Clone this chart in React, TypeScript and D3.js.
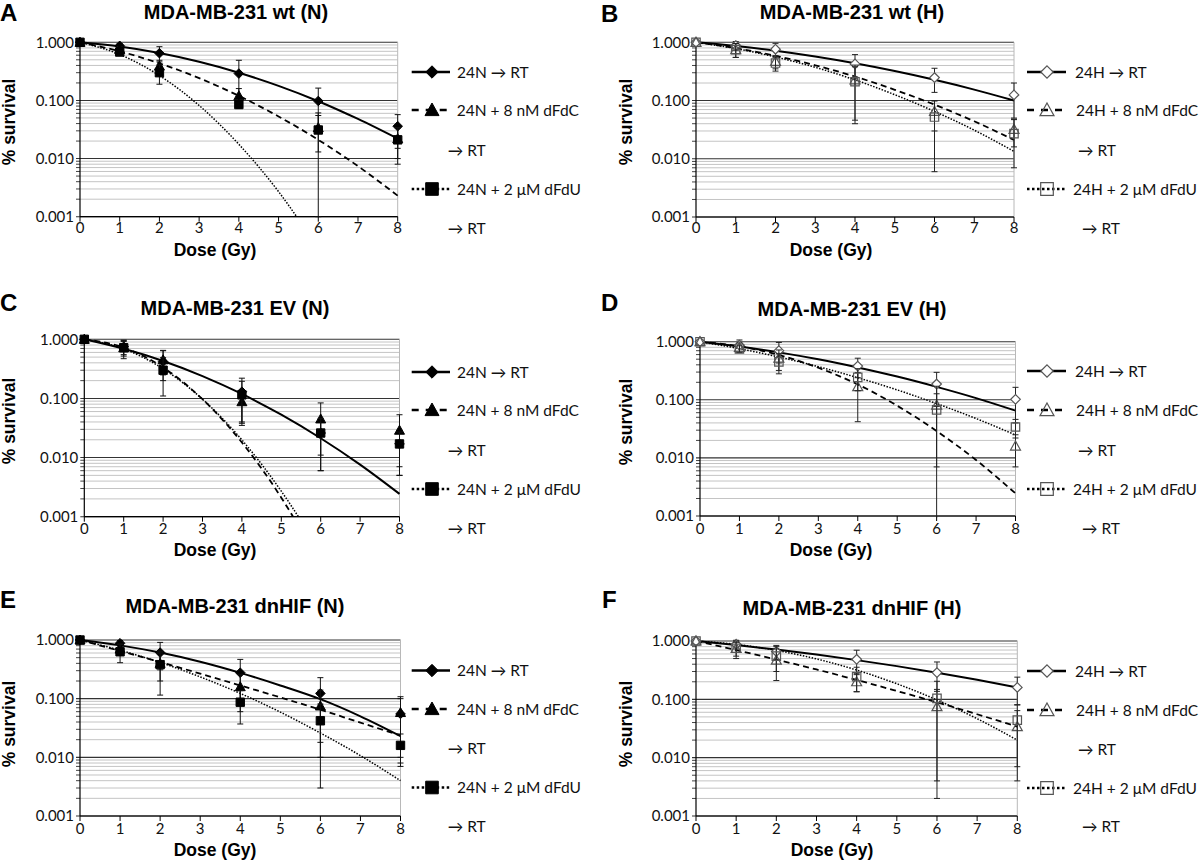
import React from "react";
import * as d3 from "d3";

// ---------- shared axis data ----------
const doses = [0, 1, 2, 4, 6, 8];
const fitDoses = [0, 1, 2, 3, 4, 5, 6, 7, 8];
const xTickValues = [0, 1, 2, 3, 4, 5, 6, 7, 8];
const yMajorTicks = [1, 0.1, 0.01, 0.001];
const yTickLabels = ["1.000", "0.100", "0.010", "0.001"];
const minorDecades = [0.001, 0.01, 0.1];
const minorFactors = [2, 3, 4, 5, 6, 7, 8, 9];
const legendLabelsN = ["24N \u2192 RT", "24N + 8 nM dFdC", "\u2192 RT", "24N + 2 \u03BCM dFdU", "\u2192 RT"];
const legendLabelsH = ["24H \u2192 RT", "24H + 8 nM dFdC", "\u2192 RT", "24H + 2 \u03BCM dFdU", "\u2192 RT"];

// ---------- A: wt (N) ----------
const wtN_RT = [1, 0.87, 0.65, 0.29, 0.098, 0.036];
const wtN_RTErr = [0, 0.08, 0.19, 0.2, 0.065, 0.021];
const wtN_dFdC = [1, 0.75, 0.39, 0.12, 0.034, 0.022];
const wtN_dFdCErr = [0, 0.1, 0.1, 0.04, 0.021, 0.012];
const wtN_dFdU = [1, 0.68, 0.3, 0.085, 0.031, 0.021];
const wtN_dFdUErr = [0, 0.08, 0.11, 0.012, 0.03, 0.013];
const wtN_fitRT = [1, 0.845, 0.653, 0.462, 0.3, 0.178, 0.097, 0.048, 0.022];
const wtN_fitDFdC = [1, 0.7, 0.435, 0.242, 0.12, 0.053, 0.021, 0.0074, 0.0023];
const wtN_fitDFdU = [1, 0.617, 0.268, 0.082, 0.0176, 0.0027, 0.00028];

// ---------- B: wt (H) ----------
const wtH_RT = [1, 0.88, 0.76, 0.425, 0.248, 0.125];
const wtH_RTErr = [0, 0.15, 0.2, 0.19, 0.11, 0.075];
const wtH_dFdC = [1, 0.75, 0.47, 0.226, 0.065, 0.032];
const wtH_dFdCErr = [0, 0.2, 0.12, 0.18, 0.035, 0.016];
const wtH_dFdU = [1, 0.75, 0.44, 0.21, 0.052, 0.027];
const wtH_dFdUErr = [0, 0.2, 0.12, 0.17, 0.046, 0.02];
const wtH_fitRT = [1, 0.864, 0.717, 0.571, 0.437, 0.321, 0.227, 0.154, 0.1];
const wtH_fitDFdC = [1, 0.794, 0.586, 0.403, 0.258, 0.153, 0.085, 0.044, 0.021];
const wtH_fitDFdU = [1, 0.78, 0.56, 0.372, 0.226, 0.126, 0.065, 0.031, 0.0134];

// ---------- C: EV (N) ----------
const evN_RT = [1, 0.75, 0.42, 0.13, 0.026, 0.017];
const evN_RTErr = [0, 0.2, 0.22, 0.09, 0.015, 0.012];
const evN_dFdC = [1, 0.72, 0.45, 0.088, 0.045, 0.029];
const evN_dFdCErr = [0, 0.2, 0.2, 0.05, 0.039, 0.024];
const evN_dFdU = [1, 0.72, 0.3, 0.115, 0.026, 0.017];
const evN_dFdUErr = [0, 0.25, 0.19, 0.08, 0.02, 0.01];
const evN_fitRT = [1, 0.69, 0.43, 0.239, 0.119, 0.053, 0.0212, 0.0076, 0.00243];
const evN_fitDFdC = [1, 0.726, 0.334, 0.097, 0.018, 0.0021, 0.00015];
const evN_fitDFdU = [1, 0.689, 0.317, 0.097, 0.0199, 0.0027, 0.00025];

// ---------- D: EV (H) ----------
const evH_RT = [1, 0.87, 0.7, 0.38, 0.187, 0.102];
const evH_RTErr = [0, 0.2, 0.27, 0.14, 0.11, 0.062];
const evH_dFdC = [1, 0.8, 0.52, 0.168, 0.081, 0.016];
const evH_dFdCErr = [0, 0.15, 0.2, 0.126, 0.09, 0.009];
const evH_dFdU = [1, 0.75, 0.45, 0.243, 0.067, 0.034];
const evH_dFdUErr = [0, 0.1, 0.17, 0.1, 0.06, 0.012];
const evH_fitRT = [1, 0.827, 0.655, 0.497, 0.36, 0.251, 0.167, 0.107, 0.065];
const evH_fitDFdC = [1, 0.834, 0.591, 0.356, 0.184, 0.079, 0.029, 0.0092, 0.00245];
const evH_fitDFdU = [1, 0.758, 0.545, 0.372, 0.24, 0.148, 0.086, 0.0476, 0.0248];

// ---------- E: dnHIF (N) ----------
const dnN_RT = [1, 0.88, 0.61, 0.277, 0.123, 0.055];
const dnN_RTErr = [0, 0.1, 0.3, 0.19, 0.105, 0.045];
const dnN_dFdC = [1, 0.7, 0.4, 0.16, 0.075, 0.058];
const dnN_dFdCErr = [0, 0.15, 0.2, 0.1, 0.065, 0.05];
const dnN_dFdU = [1, 0.63, 0.38, 0.087, 0.042, 0.016];
const dnN_dFdUErr = [0, 0.22, 0.265, 0.05, 0.039, 0.009];
const dnN_fitRT = [1, 0.81, 0.61, 0.425, 0.275, 0.168, 0.098, 0.05, 0.023];
const dnN_fitDFdC = [1, 0.65, 0.42, 0.267, 0.168, 0.105, 0.065, 0.039, 0.0237];
const dnN_fitDFdU = [1, 0.67, 0.414, 0.235, 0.123, 0.059, 0.026, 0.0107, 0.004];

// ---------- F: dnHIF (H) ----------
const dnH_RT = [1, 0.88, 0.66, 0.485, 0.287, 0.16];
const dnH_RTErr = [0, 0.15, 0.18, 0.21, 0.15, 0.08];
const dnH_dFdC = [1, 0.75, 0.47, 0.2, 0.075, 0.034];
const dnH_dFdCErr = [0, 0.25, 0.26, 0.065, 0.073, 0.03];
const dnH_dFdU = [1, 0.75, 0.55, 0.245, 0.104, 0.044];
const dnH_dFdUErr = [0, 0.2, 0.25, 0.11, 0.1, 0.037];
const dnH_fitRT = [1, 0.854, 0.714, 0.586, 0.47, 0.371, 0.286, 0.216, 0.16];
const dnH_fitDFdC = [1, 0.7, 0.48, 0.325, 0.215, 0.139, 0.089, 0.0555, 0.034];
const dnH_fitDFdU = [1, 0.874, 0.69, 0.493, 0.318, 0.185, 0.0977, 0.0466, 0.02];

// ---------- panel configuration (data refs + layout) ----------
type Layout = {
  left: number; right: number; top: number; bottom: number;
  letter: [number, number]; title: [number, number];
  yTitle: [number, number]; xTitle: [number, number]; xTickY: number;
  legX0: number; legX1: number; legMX: number; legTextX: number[]; legRowY: number[];
};

const leftLegend = { legX0: 411.7, legX1: 450, legMX: 432, legTextX: [457, 456.7, 447.7, 457, 447.7] };
const rightLegend = { legX0: 1027, legX1: 1066, legMX: 1047, legTextX: [1075, 1076, 1078, 1073, 1082] };

const panels = [
  {
    letter: "A", title: "MDA-MB-231 wt (N)", open: false, labels: legendLabelsN,
    series: [[wtN_RT, wtN_RTErr], [wtN_dFdC, wtN_dFdCErr], [wtN_dFdU, wtN_dFdUErr]],
    fits: [wtN_fitRT, wtN_fitDFdC, wtN_fitDFdU],
    layout: { left: 80, right: 397.7, top: 42.3, bottom: 216.7, letter: [0, 21], title: [236, 19], yTitle: [9, 122], xTitle: [215, 250], xTickY: 228, ...leftLegend, legRowY: [72, 110, 150, 189, 228] } as Layout,
  },
  {
    letter: "B", title: "MDA-MB-231 wt (H)", open: true, labels: legendLabelsH,
    series: [[wtH_RT, wtH_RTErr], [wtH_dFdC, wtH_dFdCErr], [wtH_dFdU, wtH_dFdUErr]],
    fits: [wtH_fitRT, wtH_fitDFdC, wtH_fitDFdU],
    layout: { left: 696, right: 1014, top: 42.3, bottom: 217, letter: [601, 22], title: [852, 19], yTitle: [626, 122], xTitle: [831, 250], xTickY: 228, ...rightLegend, legRowY: [72, 110, 150, 189, 228] } as Layout,
  },
  {
    letter: "C", title: "MDA-MB-231 EV (N)", open: false, labels: legendLabelsN,
    series: [[evN_RT, evN_RTErr], [evN_dFdC, evN_dFdCErr], [evN_dFdU, evN_dFdUErr]],
    fits: [evN_fitRT, evN_fitDFdC, evN_fitDFdU],
    layout: { left: 84.3, right: 399.5, top: 339.3, bottom: 516.7, letter: [0, 311], title: [235, 315], yTitle: [9, 421], xTitle: [215, 550], xTickY: 529, ...leftLegend, legRowY: [372, 410, 450, 489, 528] } as Layout,
  },
  {
    letter: "D", title: "MDA-MB-231 EV (H)", open: true, labels: legendLabelsH,
    series: [[evH_RT, evH_RTErr], [evH_dFdC, evH_dFdCErr], [evH_dFdU, evH_dFdUErr]],
    fits: [evH_fitRT, evH_fitDFdC, evH_fitDFdU],
    layout: { left: 700, right: 1015.5, top: 341.7, bottom: 516, letter: [601, 311], title: [852, 316], yTitle: [626, 422], xTitle: [831, 550], xTickY: 529, ...rightLegend, legRowY: [371, 410, 450, 489, 528] } as Layout,
  },
  {
    letter: "E", title: "MDA-MB-231 dnHIF (N)", open: false, labels: legendLabelsN,
    series: [[dnN_RT, dnN_RTErr], [dnN_dFdC, dnN_dFdCErr], [dnN_dFdU, dnN_dFdUErr]],
    fits: [dnN_fitRT, dnN_fitDFdC, dnN_fitDFdU],
    layout: { left: 80, right: 400.5, top: 640, bottom: 816, letter: [0, 608], title: [235, 613], yTitle: [9, 724], xTitle: [215, 850], xTickY: 829, ...leftLegend, legRowY: [670.5, 709, 748.5, 787.5, 826.5] } as Layout,
  },
  {
    letter: "F", title: "MDA-MB-231 dnHIF (H)", open: true, labels: legendLabelsH,
    series: [[dnH_RT, dnH_RTErr], [dnH_dFdC, dnH_dFdCErr], [dnH_dFdU, dnH_dFdUErr]],
    fits: [dnH_fitRT, dnH_fitDFdC, dnH_fitDFdU],
    layout: { left: 696, right: 1017.3, top: 641, bottom: 816, letter: [602, 608], title: [852, 615], yTitle: [626, 724], xTitle: [832, 850], xTickY: 829, ...rightLegend, legRowY: [671, 710, 749, 788, 826] } as Layout,
  },
];

// ---------- styles ----------
const SHAPES = ["diamond", "triangle", "square"];
const LINE_STYLES = [
  { width: 2, dash: undefined as string | undefined },
  { width: 1.8, dash: "6,4" },
  { width: 1.5, dash: "1.5,1.5" },
];
const LEGEND_LINE = [
  { width: 2.6, dash: undefined as string | undefined },
  { width: 2.6, dash: "7,7" },
  { width: 2.6, dash: "2.5,2.5" },
];
const LEGEND_ROWS = [0, 1, 3];
const SANS = "'Liberation Sans', Arial, Helvetica, sans-serif";
const TICKFONT = "Lato, 'Open Sans', sans-serif";

function shapePath(shape: string, r: number): string {
  if (shape === "diamond") return `M0,${-r}L${r},0L0,${r}L${-r},0Z`;
  if (shape === "triangle") return `M0,${-r}L${r},${r * 0.8}L${-r},${r * 0.8}Z`;
  return `M${-r},${-r}L${r},${-r}L${r},${r}L${-r},${r}Z`;
}

function Marker({ shape, x, y, r, open }: { shape: string; x: number; y: number; r: number; open: boolean }) {
  const fill = open ? (shape === "diamond" ? "#fff" : "none") : "#000";
  const stroke = open ? "#555" : "#000";
  return (
    <path
      d={shapePath(shape, r)}
      transform={`translate(${x},${y})`}
      fill={fill}
      stroke={stroke}
      strokeWidth={open ? 1.2 : 1}
    />
  );
}

function Panel({ p }: { p: (typeof panels)[number] }) {
  const L = p.layout;
  const x = d3.scaleLinear().domain([0, 8]).range([L.left, L.right]);
  const y = d3.scaleLog().domain([0.001, 1]).range([L.bottom, L.top]);
  const minor: number[] = [];
  minorDecades.forEach((d) => minorFactors.forEach((m) => minor.push(d * m)));
  const line = d3
    .line<[number, number]>()
    .x((d) => x(d[0]))
    .y((d) => y(d[1]))
    .curve(d3.curveMonotoneX);
  const clipId = `clip-${p.letter}`;
  const errColor = p.open ? "#222" : "#111";

  return (
    <g>
      <defs>
        <clipPath id={clipId}>
          <rect x={L.left} y={L.top - 6} width={L.right - L.left + 2} height={L.bottom - L.top + 6} />
        </clipPath>
      </defs>
      {/* letter & title */}
      <text x={L.letter[0]} y={L.letter[1]} fontFamily={SANS} fontWeight="bold" fontSize={24}>
        {p.letter}
      </text>
      <text x={L.title[0]} y={L.title[1]} fontFamily={SANS} fontWeight="bold" fontSize={20} textAnchor="middle">
        {p.title}
      </text>
      {/* minor grid */}
      {minor.map((v, i) => (
        <line key={"mg" + i} x1={L.left} x2={L.right} y1={y(v)} y2={y(v)} stroke="#c4c4c4" strokeWidth={1} />
      ))}
      {/* minor ticks on y axis */}
      {minor.map((v, i) => (
        <line key={"mt" + i} x1={L.left - 4} x2={L.left} y1={y(v)} y2={y(v)} stroke="#444" strokeWidth={1} />
      ))}
      {/* major grid */}
      {yMajorTicks.map((v, i) => (
        <line key={"Mg" + i} x1={L.left - 4} x2={L.right} y1={y(v)} y2={y(v)} stroke="#333" strokeWidth={1.1} />
      ))}
      {/* right border */}
      <line x1={L.right} x2={L.right} y1={L.top} y2={L.bottom} stroke="#b8b8b8" strokeWidth={1} />
      {/* axes */}
      <line x1={L.left} x2={L.left} y1={L.top} y2={L.bottom} stroke="#000" strokeWidth={1.2} />
      <line x1={L.left} x2={L.right} y1={L.bottom} y2={L.bottom} stroke="#000" strokeWidth={1.2} />
      {xTickValues.map((v) => (
        <line key={"xt" + v} x1={x(v)} x2={x(v)} y1={L.bottom} y2={L.bottom + 5} stroke="#000" strokeWidth={1} />
      ))}
      {/* tick labels */}
      {yMajorTicks.map((v, i) => (
        <text key={"yl" + i} x={L.left - 6} y={y(v)} dy="0.36em" textAnchor="end" fontFamily={TICKFONT} fontSize={15} fill="#111">
          {yTickLabels[i]}
        </text>
      ))}
      {xTickValues.map((v) => (
        <text key={"xl" + v} x={x(v)} y={L.xTickY} dy="0.36em" textAnchor="middle" fontFamily={TICKFONT} fontSize={15} fill="#111">
          {v}
        </text>
      ))}
      {/* axis titles */}
      <text x={L.xTitle[0]} y={L.xTitle[1]} dy="0.36em" textAnchor="middle" fontFamily={SANS} fontWeight="bold" fontSize={17.5}>
        Dose (Gy)
      </text>
      <text
        transform={`translate(${L.yTitle[0]},${L.yTitle[1]}) rotate(-90)`}
        dy="0.36em"
        textAnchor="middle"
        fontFamily={SANS}
        fontWeight="bold"
        fontSize={17.5}
      >
        % survival
      </text>
      {/* fit curves */}
      <g clipPath={`url(#${clipId})`}>
        {p.fits.map((f, si) => (
          <path
            key={"fit" + si}
            d={line(f.map((v, i) => [fitDoses[i], v] as [number, number])) || ""}
            fill="none"
            stroke="#000"
            strokeWidth={LINE_STYLES[si].width}
            strokeDasharray={LINE_STYLES[si].dash}
          />
        ))}
      </g>
      {/* error bars and markers */}
      {p.series.map(([vals, errs], si) => (
        <g key={"s" + si}>
          {vals.map((v, i) => {
            const e = errs[i];
            if (!e) return null;
            const cx = x(doses[i]);
            const yTop = y(v + e);
            const low = v - e;
            const hasLowCap = low > 0.001;
            const yLow = hasLowCap ? y(low) : L.bottom + 2;
            return (
              <g key={"e" + i} stroke={errColor} strokeWidth={1}>
                <line x1={cx} x2={cx} y1={yTop} y2={yLow} />
                <line x1={cx - 3} x2={cx + 3} y1={yTop} y2={yTop} />
                {hasLowCap && <line x1={cx - 3} x2={cx + 3} y1={yLow} y2={yLow} />}
              </g>
            );
          })}
          {vals.map((v, i) => (
            <Marker key={"m" + i} shape={SHAPES[si]} x={x(doses[i])} y={y(v)} r={si === 2 ? 4.2 : si === 1 ? 5 : 4.8} open={p.open} />
          ))}
        </g>
      ))}
      {/* legend */}
      {[0, 1, 2].map((si) => {
        const ly = L.legRowY[LEGEND_ROWS[si]];
        return (
          <g key={"lg" + si}>
            <line
              x1={L.legX0}
              x2={L.legX1}
              y1={ly}
              y2={ly}
              stroke="#000"
              strokeWidth={LEGEND_LINE[si].width}
              strokeDasharray={LEGEND_LINE[si].dash}
            />
            <Marker shape={SHAPES[si]} x={L.legMX} y={ly} r={si === 0 ? 6.2 : si === 1 ? 7 : 6.3} open={p.open} />
          </g>
        );
      })}
      {p.labels.map((t, i) => (
        <text key={"lt" + i} x={L.legTextX[i]} y={L.legRowY[i]} dy="0.36em" fontFamily={TICKFONT} fontSize={15.5} fill="#111">
          {t}
        </text>
      ))}
    </g>
  );
}

export default function App() {
  return (
    <svg
      width={1200}
      height={867}
      viewBox="0 0 1200 867"
      style={{ position: "absolute", left: 0, top: 0, display: "block", background: "#fff" }}
    >
      <rect x={0} y={0} width={1200} height={867} fill="#fff" />
      {panels.map((p) => (
        <Panel key={p.letter} p={p} />
      ))}
    </svg>
  );
}
